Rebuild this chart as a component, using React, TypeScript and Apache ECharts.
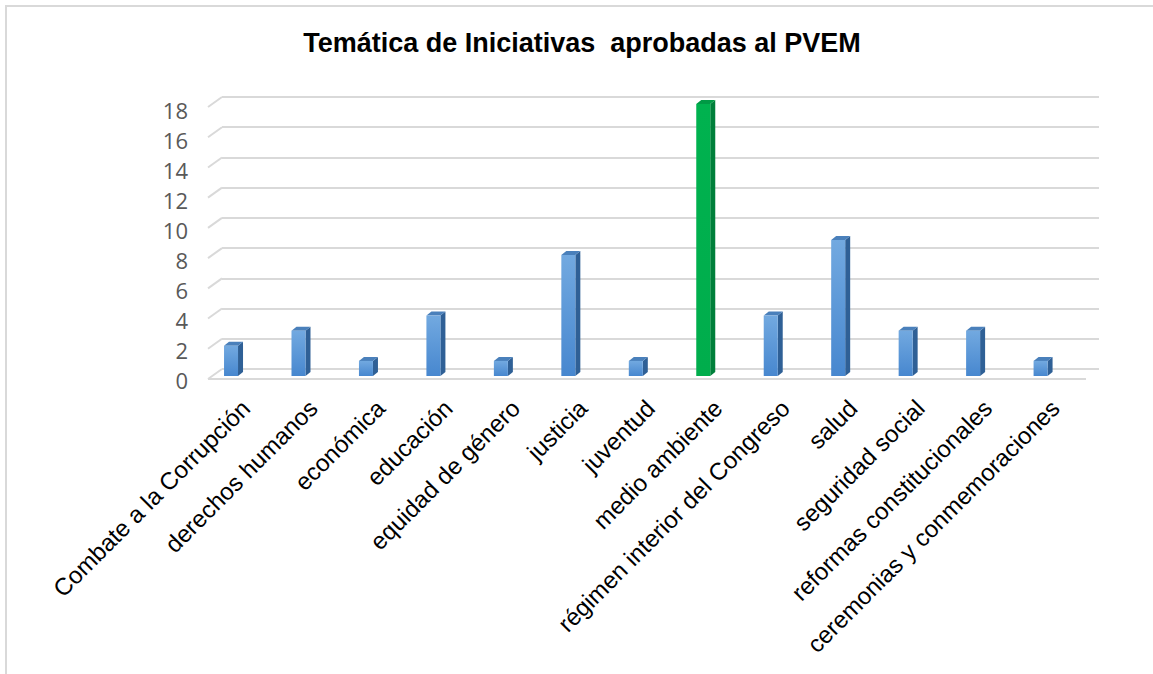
import React, { useEffect, useRef } from "react";
import * as echarts from "echarts";

const titleText = "Temática de Iniciativas  aprobadas al PVEM";
const categories = [
  "Combate a la Corrupción",
  "derechos humanos",
  "económica",
  "educación",
  "equidad de género",
  "justicia",
  "juventud",
  "medio ambiente",
  "régimen interior del Congreso",
  "salud",
  "seguridad social",
  "reformas constitucionales",
  "ceremonias y conmemoraciones",
];
const values = [2, 3, 1, 4, 1, 8, 1, 18, 4, 9, 3, 3, 1];
const highlighted = "medio ambiente";
const yTickValues = [0, 2, 4, 6, 8, 10, 12, 14, 16, 18];
const yMax = 18;
const yInterval = 2;

const hiddenAxis = {
  axisLine: { show: false },
  axisTick: { show: false },
  axisLabel: { show: false },
  splitLine: { show: false },
};

export default function App() {
  const ref = useRef<HTMLDivElement>(null);

  useEffect(() => {
    if (!ref.current) return;
    const chart = echarts.init(ref.current, null, { renderer: "svg" });

    const blueFront = new echarts.graphic.LinearGradient(0, 0, 0, 1, [
      { offset: 0, color: "#72a9e0" },
      { offset: 1, color: "#4787cf" },
    ]);
    const greenFront = new echarts.graphic.LinearGradient(0, 0, 0, 1, [
      { offset: 0, color: "#00b24f" },
      { offset: 1, color: "#00ad4c" },
    ]);

    const option: any = {
      animation: false,
      backgroundColor: "#ffffff",
      grid: [
        { left: 197.3, top: 104, width: 877, height: 272 },
        { left: 222, top: 97, width: 877, height: 272 },
        { left: 208, top: 110, width: 877, height: 270 },
        { left: 212, top: 110, width: 877, height: 270 },
      ],
      xAxis: [
        { type: "category", data: categories, gridIndex: 0, ...hiddenAxis },
        { type: "category", data: categories, gridIndex: 1, ...hiddenAxis },
        { type: "category", data: categories, gridIndex: 2, ...hiddenAxis },
        {
          type: "category",
          data: categories,
          gridIndex: 3,
          axisLine: { show: false },
          axisTick: { show: false },
          splitLine: { show: false },
          axisLabel: {
            interval: 0,
            rotate: 45,
            margin: 24,
            fontSize: 24,
            fontFamily: "Liberation Sans, Arial, sans-serif",
            color: "#000000",
          },
        },
      ],
      yAxis: [
        { type: "value", min: 0, max: yMax, interval: yInterval, gridIndex: 0, ...hiddenAxis },
        {
          type: "value",
          min: 0,
          max: yMax,
          interval: yInterval,
          gridIndex: 1,
          axisLine: { show: false },
          axisTick: { show: false },
          axisLabel: { show: false },
          splitLine: { show: true, lineStyle: { color: "#d9d9d9", width: 2 } },
        },
        {
          type: "value",
          min: 0,
          max: yMax,
          interval: yInterval,
          gridIndex: 2,
          axisLine: { show: false },
          axisTick: { show: false },
          splitLine: { show: false },
          axisLabel: {
            margin: 20,
            fontSize: 22,
            fontFamily: "Open Sans, sans-serif",
            color: "#595959",
          },
        },
        { type: "value", min: 0, max: yMax, interval: yInterval, gridIndex: 3, ...hiddenAxis },
      ],
      graphic: [
        {
          type: "rect",
          shape: { x: 6, y: 6, width: 1400, height: 900 },
          style: { fill: "none", stroke: "#d9d9d9", lineWidth: 2 },
          silent: true,
        },
        {
          type: "text",
          x: 582,
          y: 43,
          style: {
            text: titleText,
            textAlign: "center",
            textVerticalAlign: "middle",
            fontFamily: "Liberation Sans, Arial, sans-serif",
            fontWeight: "bold",
            fontSize: 27,
            fill: "#000000",
          },
        },
      ],
      series: [
        {
          type: "custom",
          xAxisIndex: 1,
          yAxisIndex: 1,
          clip: false,
          data: yTickValues.map((v) => [0, v]),
          renderItem: (params: any, api: any) => {
            const v = api.value(1);
            const p = api.coord([0, v]);
            const cs = params.coordSys;
            const x0 = cs.x;
            const children: any[] = [
              {
                type: "line",
                shape: { x1: x0 - 14, y1: p[1] + 10, x2: x0, y2: p[1] },
                style: { stroke: "#d9d9d9", lineWidth: 2 },
              },
            ];
            if (v === 0) {
              children.push({
                type: "line",
                shape: { x1: x0 - 14, y1: p[1] + 10, x2: x0 - 14 + cs.width + 1, y2: p[1] + 10 },
                style: { stroke: "#d9d9d9", lineWidth: 2 },
              });
            }
            return { type: "group", children };
          },
        },
        {
          type: "custom",
          xAxisIndex: 0,
          yAxisIndex: 0,
          clip: false,
          data: values.map((v, i) => [i, v]),
          renderItem: (params: any, api: any) => {
            const i = api.value(0);
            const v = api.value(1);
            const top = api.coord([i, v]);
            const base = api.coord([i, 0]);
            const half = 7;
            const sw = 5;
            const sd = 4;
            const xl = top[0] - half;
            const xr = top[0] + half;
            const isGreen = categories[i] === highlighted;
            const sideColor = isGreen ? "#007f3a" : "#2f6096";
            const topColor = isGreen ? "#009a45" : "#4a80bb";
            return {
              type: "group",
              children: [
                {
                  type: "polygon",
                  shape: {
                    points: [
                      [xr, top[1]],
                      [xr + sw, top[1] - sd],
                      [xr + sw, base[1] - sd],
                      [xr, base[1]],
                    ],
                  },
                  style: { fill: sideColor },
                },
                {
                  type: "polygon",
                  shape: {
                    points: [
                      [xl, top[1]],
                      [xr, top[1]],
                      [xr + sw, top[1] - sd],
                      [xl + sw, top[1] - sd],
                    ],
                  },
                  style: { fill: topColor },
                },
                {
                  type: "rect",
                  shape: { x: xl, y: top[1], width: xr - xl, height: base[1] - top[1] },
                  style: { fill: isGreen ? greenFront : blueFront },
                },
              ],
            };
          },
        },
      ],
    };

    chart.setOption(option);
    return () => chart.dispose();
  }, []);

  return (
    <div
      ref={ref}
      style={{ position: "fixed", left: 0, top: 0, width: 1153, height: 674, background: "#fff" }}
    />
  );
}
